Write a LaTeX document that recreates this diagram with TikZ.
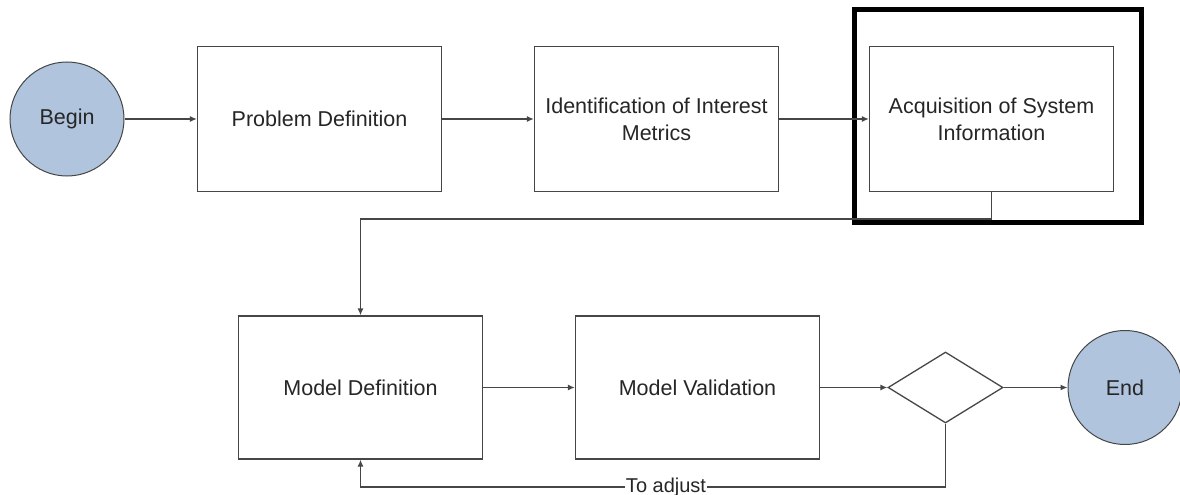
\documentclass[tikz,border=0pt]{standalone}
\usepackage{fontspec}
\setmainfont{Liberation Sans}
\usetikzlibrary{shapes.geometric,arrows.meta}
\definecolor{termfill}{RGB}{176,196,222}
\definecolor{edgegray}{RGB}{70,70,70}
\tikzset{
  every node/.style={font=\fontsize{21.5}{27}\selectfont, text=black!85},
  stepbox/.style={draw=edgegray, line width=1.3pt, fill=white, minimum width=244pt, minimum height=145pt, align=center, inner sep=0pt},
  terminal/.style={circle, draw=edgegray, line width=1pt, fill=termfill, minimum size=114pt, inner sep=0pt},
  decision/.style={diamond, draw=edgegray, line width=1.3pt, fill=white, minimum width=115pt, minimum height=71pt, aspect=1.6, inner sep=0pt},
  flow/.style={draw=edgegray, line width=1.3pt, -{Latex[length=7pt,width=6pt]}},
  link/.style={draw=edgegray, line width=1.3pt}
}
\begin{document}
\begin{tikzpicture}[x=1pt,y=-1pt]
\useasboundingbox (0,0) rectangle (1180,495);

% top row
\node[terminal] (begin) at (67,119) {Begin};
\node[stepbox] (prob) at (319.5,119) {Problem Definition};
\node[stepbox] (ident) at (656.5,119) {Identification of Interest\\Metrics};
\node[stepbox] (acq) at (991.5,119) {Acquisition of System\\Information};

% highlight frame around the acquisition step
\node[draw=black, line width=5pt, minimum width=287pt, minimum height=212pt, inner sep=0pt] (frame) at (997.5,116) {};

% bottom row
\node[stepbox, minimum height=143pt] (mdef) at (360.5,387.5) {Model Definition};
\node[stepbox, minimum height=143pt] (mval) at (697.5,387.5) {Model Validation};
\node[decision] (dec) at (945.5,387.5) {};
\node[terminal] (end) at (1125,387.5) {End};

\coordinate (turn) at (991.5,219);
\coordinate (loop) at (945.5,487);

% connectors
\draw[flow] (begin) -- (prob);
\draw[flow] (prob) -- (ident);
\draw[flow] (ident) -- (acq);
\draw[flow] (acq.south) -- (turn) -| (mdef.north);
\draw[flow] (mdef) -- (mval);
\draw[flow] (mval) -- (dec);
\draw[flow] (dec) -- (end);
\draw[flow] (dec.south) -- (loop) -| (mdef.south);
\node[fill=white, inner sep=1pt, font=\fontsize{20}{24}\selectfont] (adj) at (666,487) {To adjust};
\end{tikzpicture}
\end{document}
